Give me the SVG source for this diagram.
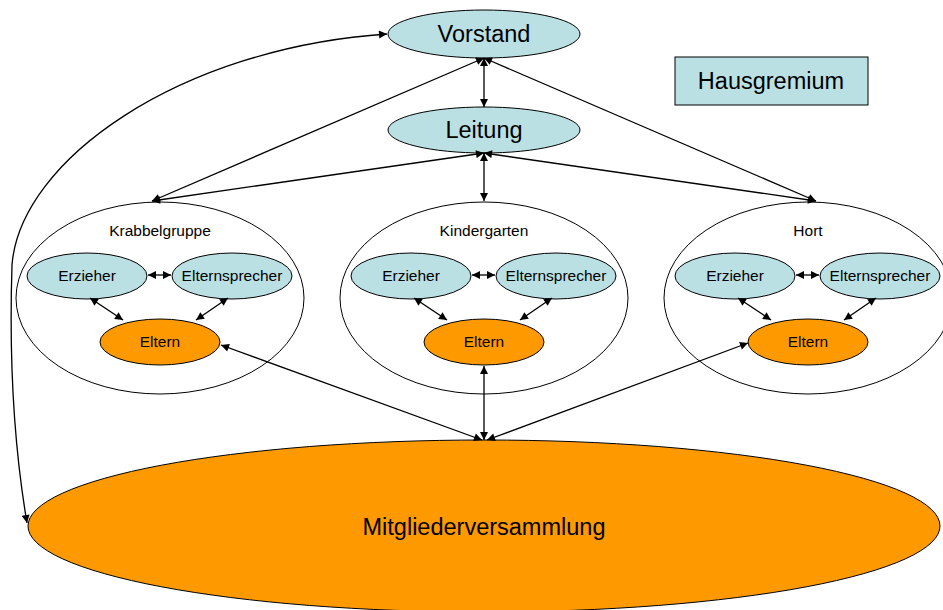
<svg xmlns="http://www.w3.org/2000/svg" width="943" height="610" viewBox="0 0 943 610">
<defs>
<marker id="ah" viewBox="0 0 10 10" refX="10" refY="5" markerWidth="9" markerHeight="8" markerUnits="userSpaceOnUse" orient="auto-start-reverse">
<path d="M0,0 L10,5 L0,10 z" fill="#000"/>
</marker>
<style>
.blue{fill:#bbe0e3;stroke:#000;stroke-width:1}
.orange{fill:#ff9900;stroke:#000;stroke-width:1}
.grp{fill:none;stroke:#000;stroke-width:1}
.t{font-family:"Liberation Sans",Arial,sans-serif;fill:#000;text-anchor:middle}
.big{font-size:23.5px}
.sm{font-size:15.5px}
.c{fill:none;stroke:#000;stroke-width:1.3;marker-start:url(#ah);marker-end:url(#ah)}
</style>
</defs>
<rect width="943" height="610" fill="#fff"/>

<g id="mitglieder">
<ellipse class="orange" cx="484" cy="526" rx="456" ry="86"/>
<text class="t big" x="484" y="535">Mitgliederversammlung</text>
</g>

<g id="krabbelgruppe">
<ellipse class="grp" cx="160" cy="298" rx="144" ry="96"/>
<text class="t sm" x="160" y="236">Krabbelgruppe</text>
</g>
<g id="kindergarten">
<ellipse class="grp" cx="484" cy="298" rx="144" ry="96"/>
<text class="t sm" x="484" y="236">Kindergarten</text>
</g>
<g id="hort">
<ellipse class="grp" cx="808" cy="298" rx="144" ry="96"/>
<text class="t sm" x="808" y="236">Hort</text>
</g>

<g id="vorstand">
<ellipse class="blue" cx="484" cy="34" rx="96" ry="24"/>
<text class="t big" x="484" y="42">Vorstand</text>
</g>
<g id="leitung">
<ellipse class="blue" cx="484" cy="130" rx="96" ry="23"/>
<text class="t big" x="484" y="138">Leitung</text>
</g>
<g id="hausgremium">
<rect class="blue" x="675" y="57" width="193" height="48"/>
<text class="t big" x="771" y="89">Hausgremium</text>
</g>

<g id="k-erzieher"><ellipse class="blue" cx="87" cy="276" rx="60" ry="23"/><text class="t sm" x="87" y="281">Erzieher</text></g>
<g id="k-elternsprecher"><ellipse class="blue" cx="232" cy="276" rx="60" ry="23"/><text class="t sm" x="232" y="281">Elternsprecher</text></g>
<g id="k-eltern"><ellipse class="orange" cx="160" cy="342" rx="60" ry="23"/><text class="t sm" x="160" y="347">Eltern</text></g>

<g id="kg-erzieher"><ellipse class="blue" cx="411" cy="276" rx="60" ry="23"/><text class="t sm" x="411" y="281">Erzieher</text></g>
<g id="kg-elternsprecher"><ellipse class="blue" cx="556" cy="276" rx="60" ry="23"/><text class="t sm" x="556" y="281">Elternsprecher</text></g>
<g id="kg-eltern"><ellipse class="orange" cx="484" cy="342" rx="60" ry="23"/><text class="t sm" x="484" y="347">Eltern</text></g>

<g id="h-erzieher"><ellipse class="blue" cx="735" cy="276" rx="60" ry="23"/><text class="t sm" x="735" y="281">Erzieher</text></g>
<g id="h-elternsprecher"><ellipse class="blue" cx="880" cy="276" rx="60" ry="23"/><text class="t sm" x="880" y="281">Elternsprecher</text></g>
<g id="h-eltern"><ellipse class="orange" cx="808" cy="342" rx="60" ry="23"/><text class="t sm" x="808" y="347">Eltern</text></g>

<g id="connectors">
<path class="c" d="M484,58 L484,107"/>
<path class="c" d="M484,58 L152,201"/>
<path class="c" d="M484,58 L816,201"/>
<path class="c" d="M484,153 L152,201"/>
<path class="c" d="M484,153 L816,201"/>
<path class="c" d="M484,153 L484,201"/>
<path class="c" d="M387,34 C180,48 20,160 12,265 C8,390 18,470 27,523"/>

<path class="c" d="M148,275 L171,275"/>
<path class="c" d="M90,298 L123,320"/>
<path class="c" d="M228,298 L196,320"/>
<path class="c" d="M472,275 L495,275"/>
<path class="c" d="M414,298 L447,320"/>
<path class="c" d="M552,298 L520,320"/>
<path class="c" d="M796,275 L819,275"/>
<path class="c" d="M738,298 L771,320"/>
<path class="c" d="M876,298 L844,320"/>

<path class="c" d="M221,345 L482,440"/>
<path class="c" d="M484,366 L484,440"/>
<path class="c" d="M748,343 L487,440"/>
</g>
</svg>
